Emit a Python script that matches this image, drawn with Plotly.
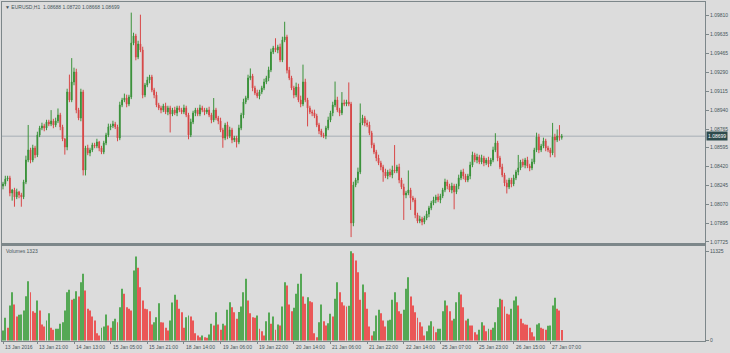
import plotly.graph_objects as go
from datetime import datetime, timedelta

# ---------------- data ----------------
symbol = "EURUSD,H1"
first_open = 1.08240
close = [
    1.08259, 1.08305, 1.08315, 1.08176, 1.08204, 1.08140, 1.08186, 1.08158, 1.08140, 1.08278,
    1.08480, 1.08573, 1.08480, 1.08591, 1.08527, 1.08711, 1.08775, 1.08794, 1.08775, 1.08831,
    1.08812, 1.08840, 1.08803, 1.08840, 1.08895, 1.08785, 1.08674, 1.08600, 1.09107, 1.09033,
    1.09199, 1.09291, 1.08941, 1.08867, 1.09107, 1.08388, 1.08591, 1.08545, 1.08573, 1.08619,
    1.08609, 1.08646, 1.08591, 1.08554, 1.08637, 1.08711, 1.08785, 1.08794, 1.08812, 1.08785,
    1.08683, 1.08987, 1.09033, 1.09052, 1.08996, 1.09061, 1.09558, 1.09623, 1.09429, 1.09549,
    1.09494, 1.09079, 1.09171, 1.09217, 1.09245, 1.09125, 1.09079, 1.08987, 1.08960, 1.08941,
    1.08978, 1.08923, 1.08960, 1.08904, 1.08941, 1.08914, 1.08960, 1.08941, 1.08923, 1.08960,
    1.08895, 1.08711, 1.08831, 1.08914, 1.08941, 1.08904, 1.08960, 1.08941, 1.08923, 1.08941,
    1.08895, 1.08849, 1.08941, 1.08867, 1.08840, 1.08757, 1.08683, 1.08803, 1.08702, 1.08757,
    1.08665, 1.08683, 1.08646, 1.08775, 1.08895, 1.09015, 1.09052, 1.09236, 1.09254, 1.09144,
    1.09098, 1.09070, 1.09107, 1.09144, 1.09199, 1.09236, 1.09310, 1.09476, 1.09512, 1.09494,
    1.09522, 1.09402, 1.09586, 1.09614, 1.09308, 1.09236, 1.09144, 1.09079, 1.09153, 1.09033,
    1.08996, 1.09199, 1.09033, 1.08960, 1.08923, 1.08914, 1.08886, 1.08803, 1.08748, 1.08711,
    1.08702, 1.08775, 1.08849, 1.08914, 1.08987, 1.09033, 1.08941, 1.08914, 1.09006, 1.08996,
    1.09015, 1.08996, 1.07900, 1.08250, 1.08296, 1.08370, 1.08821, 1.08867, 1.08821, 1.08803,
    1.08729, 1.08619, 1.08554, 1.08499, 1.08453, 1.08416, 1.08370, 1.08333, 1.08370, 1.08342,
    1.08388, 1.08379, 1.08416, 1.08296, 1.08232, 1.08158, 1.08176, 1.08204, 1.08130, 1.08112,
    1.07974, 1.07918, 1.07937, 1.07909, 1.07946, 1.07983, 1.08038, 1.08084, 1.08112, 1.08140,
    1.08112, 1.08149, 1.08204, 1.08278, 1.08241, 1.08204, 1.08241, 1.08186, 1.08241, 1.08315,
    1.08370, 1.08333, 1.08296, 1.08333, 1.08434, 1.08527, 1.08480, 1.08508, 1.08462, 1.08499,
    1.08453, 1.08480, 1.08444, 1.08480, 1.08573, 1.08637, 1.08499, 1.08416, 1.08342, 1.08269,
    1.08232, 1.08296, 1.08259, 1.08315, 1.08370, 1.08407, 1.08462, 1.08434, 1.08480, 1.08425,
    1.08407, 1.08462, 1.08573, 1.08692, 1.08573, 1.08609, 1.08656, 1.08591, 1.08573, 1.08545,
    1.08692, 1.08665, 1.08702, 1.08688, 1.08699,
]
upper_wick_pips = [
    2, 3, 2, 2, 1, 2, 3, 1, 2, 2,
    4, 23, 2, 3, 2, 3, 2, 3, 2, 2,
    2, 10, 2, 3, 6, 2, 2, 1, 3, 16,
    22, 4, 3, 2, 3, 2, 2, 3, 2, 2,
    2, 3, 1, 2, 2, 2, 3, 2, 3, 2,
    2, 3, 2, 4, 3, 2, 28, 3, 2, 3,
    27, 3, 2, 3, 2, 2, 2, 3, 2, 2,
    2, 3, 2, 2, 2, 3, 2, 2, 2, 3,
    2, 2, 3, 2, 2, 2, 3, 2, 2, 2,
    3, 2, 11, 2, 2, 3, 2, 2, 3, 3,
    2, 2, 2, 3, 2, 3, 2, 3, 7, 2,
    2, 3, 2, 2, 3, 2, 3, 3, 2, 9,
    2, 3, 3, 14, 2, 3, 2, 2, 4, 3,
    4, 16, 3, 2, 2, 2, 3, 2, 2, 2,
    2, 2, 3, 2, 3, 17, 3, 2, 10, 3,
    2, 18, 2, 3, 2, 4, 18, 3, 2, 3,
    3, 2, 2, 2, 3, 2, 2, 3, 2, 3,
    4, 23, 2, 3, 2, 3, 2, 18, 2, 2,
    2, 2, 3, 2, 2, 3, 2, 2, 3, 2,
    3, 2, 2, 3, 2, 2, 3, 2, 2, 3,
    2, 3, 2, 2, 3, 3, 2, 3, 2, 3,
    2, 2, 3, 2, 3, 9, 2, 2, 3, 2,
    3, 2, 2, 3, 2, 12, 2, 3, 2, 3,
    2, 3, 2, 4, 3, 2, 3, 2, 2, 2,
    13, 3, 6, 10, 2.1,
]
lower_wick_pips = [
    3, 2, 2, 3, 7, 9, 2, 3, 9, 2,
    2, 2, 3, 2, 3, 2, 2, 2, 3, 2,
    2, 2, 3, 2, 2, 3, 2, 7, 3, 2,
    2, 3, 3, 2, 3, 5, 5, 2, 3, 2,
    2, 2, 3, 2, 2, 2, 2, 3, 2, 2,
    3, 2, 2, 2, 3, 2, 2, 2, 3, 2,
    2, 3, 2, 2, 3, 2, 3, 2, 2, 3,
    2, 2, 3, 17, 2, 2, 3, 2, 2, 2,
    2, 4, 2, 2, 3, 2, 2, 2, 3, 2,
    2, 3, 2, 2, 3, 2, 9, 2, 3, 2,
    3, 2, 5, 2, 2, 3, 2, 2, 2, 3,
    2, 2, 3, 2, 2, 2, 3, 2, 2, 2,
    3, 2, 2, 2, 3, 2, 2, 3, 2, 2,
    3, 2, 2, 17, 2, 3, 2, 2, 3, 2,
    2, 3, 2, 2, 3, 2, 2, 3, 2, 2,
    2, 2, 13, 3, 2, 3, 2, 2, 3, 2,
    2, 3, 2, 3, 2, 3, 9, 2, 3, 2,
    3, 2, 2, 3, 2, 23, 3, 2, 11, 2,
    3, 2, 2, 3, 2, 2, 3, 2, 2, 3,
    2, 3, 2, 2, 3, 2, 3, 16, 2, 3,
    2, 3, 2, 2, 3, 2, 2, 3, 2, 2,
    3, 2, 3, 2, 2, 2, 3, 2, 2, 3,
    6, 2, 3, 2, 2, 3, 2, 2, 3, 2,
    3, 2, 2, 2, 3, 2, 2, 3, 2, 4,
    2, 16, 2, 3, 2.0,
]
volume = [
    1270, 2880, 1610, 4450, 6140, 4570, 3050, 3260, 3300, 3810,
    5630, 7540, 6140, 3730, 3510, 5080, 3810, 2030, 1780, 2540,
    3470, 1610, 1360, 1480, 1500, 2120, 2330, 3810, 6140, 6440,
    5170, 5290, 6270, 5590, 7410, 8470, 6350, 4020, 3810, 3050,
    2540, 930, 640, 1610, 1780, 3300, 1910, 1610, 2460, 2750,
    2330, 4230, 6560, 5930, 4230, 4020, 3810, 8890, 10670, 9230,
    6770, 5080, 4020, 3980, 3730, 2030, 2330, 2960, 4740, 2330,
    2300, 1610, 1270, 2540, 4830, 5800, 5170, 4020, 3600, 1610,
    2960, 3180, 3050, 2540, 930, 640, 420, 640, 420, 340,
    760, 2120, 1910, 3600, 2030, 1360, 2120, 1910, 3890, 4870,
    4230, 3600, 2750, 3620, 4320, 6140, 7830, 5080, 3470, 2960,
    2900, 3180, 1480, 1190, 640, 2460, 3560, 2120, 3050, 1360,
    2030, 1910, 4320, 7410, 6980, 4570, 3730, 4150, 5930, 7200,
    8470, 5590, 4660, 5500, 5000, 4870, 930, 420, 2330, 4570,
    2460, 1910, 2200, 3390, 3050, 5290, 7410, 6140, 4870, 4450,
    4320, 4400, 11325, 11090, 10160, 8680, 5170, 7110, 6140, 4020,
    1780, 640, 1190, 3180, 3890, 3470, 2540, 1780, 2540, 2620,
    5170, 6140, 4870, 3730, 3390, 3890, 6560, 8040, 5590, 4450,
    3600, 2880, 2330, 1780, 640, 1190, 1910, 2460, 1780, 1060,
    1480, 1500, 3730, 5080, 4450, 3730, 2540, 2750, 4870, 6140,
    5840, 4230, 2540, 2750, 1910, 1900, 1060, 760, 1360, 2330,
    1910, 1190, 1480, 1360, 1610, 2330, 4230, 5290, 5170, 4320,
    3390, 3300, 4020, 5080, 5590, 4450, 2750, 2200, 2030, 2000,
    1610, 1060, 510, 2030, 2200, 1610, 1480, 1360, 1860, 1910,
    4450, 5420, 4020, 3810, 1323,
]
price_ticks = [1.09810, 1.09635, 1.09465, 1.09290, 1.09115, 1.08940, 1.08765,
               1.08595, 1.08420, 1.08245, 1.08070, 1.07895, 1.07725]
time_labels = ["13 Jan 2016", "13 Jan 21:00", "14 Jan 13:00", "15 Jan 05:00",
               "15 Jan 21:00", "18 Jan 14:00", "19 Jan 06:00", "19 Jan 22:00",
               "20 Jan 14:00", "21 Jan 06:00", "21 Jan 22:00", "22 Jan 14:00",
               "25 Jan 07:00", "25 Jan 23:00", "26 Jan 15:00", "27 Jan 07:00"]
start_time = datetime(2016, 1, 13, 6)

# ---------------- derived ----------------
n = len(close)
times = []
t = start_time
while len(times) < n:
    wd = t.weekday()
    if wd < 4 or (wd == 4 and t.hour <= 22):
        times.append(t)
    t += timedelta(hours=1)

opens = [first_open] + close[:-1]
highs = [max(o, c) + u * 1e-4 for o, c, u in zip(opens, close, upper_wick_pips)]
lows = [min(o, c) - w * 1e-4 for o, c, w in zip(opens, close, lower_wick_pips)]
idx = list(range(n))

vol_colors = []
for k, v in enumerate(volume):
    up = k == 0 or v > volume[k - 1]
    vol_colors.append("#55a855" if up else "#ea5757")

tick_idx = []
for lab in time_labels:
    for k, tt in enumerate(times):
        if tt.strftime("%d %b %H:%M") == lab:
            tick_idx.append(k)
            break
    else:
        tick_idx.append(0)

# ---------------- style ----------------
BG = "#dcdcdc"
FRAME = "#7d878a"
TXT = "#46555a"
FONT = "Liberation Sans, Arial, sans-serif"
W, H = 730, 353
ML, MR, MT, MB = 2, 25, 2, 12
ph = H - MT - MB  # plot height in px


def py(pix):  # pixel row -> paper y
    return (H - MB - pix) / ph


fig = go.Figure()
fig.add_trace(go.Candlestick(
    x=idx, open=opens, high=highs, low=lows, close=close,
    increasing=dict(line=dict(color="#3a923a", width=1), fillcolor="#127a12"),
    decreasing=dict(line=dict(color="#d84848", width=1), fillcolor="#c81e1e"),
    whiskerwidth=0, xaxis="x", yaxis="y", showlegend=False, hoverinfo="skip",
))
fig.add_trace(go.Bar(
    x=idx, y=volume, marker=dict(color=vol_colors, line=dict(width=0)),
    xaxis="x2", yaxis="y2", showlegend=False, hoverinfo="skip",
))

x_range = [-0.44, 306.55]
last = n - 1
annotations = [
    dict(text="▼ %s  %.5f %.5f %.5f %.5f" % (symbol, opens[last], highs[last], lows[last], close[last]),
         xref="paper", yref="paper", x=0.002, y=py(6.5), xanchor="left", yanchor="middle",
         showarrow=False, font=dict(size=5, color=TXT, family=FONT)),
    dict(text="Volumes %d" % volume[last],
         xref="paper", yref="paper", x=0.003, y=py(250.5), xanchor="left", yanchor="middle",
         showarrow=False, font=dict(size=5, color=TXT, family=FONT)),
    dict(text="%.5f" % close[last], xref="paper", yref="y", x=1, y=close[last],
         xanchor="left", yanchor="middle", xshift=1, showarrow=False,
         bgcolor="#2d4a4c", borderpad=1, font=dict(size=5, color="#ffffff", family=FONT)),
]
for k, lab in zip(tick_idx, time_labels):
    annotations.append(dict(text=lab, xref="x2", yref="paper", x=k, y=py(346.8),
                            xanchor="left", yanchor="middle", xshift=0, showarrow=False,
                            font=dict(size=5, color=TXT, family=FONT)))

axis_common = dict(showline=True, mirror=True, linecolor=FRAME, linewidth=1,
                   showgrid=False, zeroline=False, fixedrange=True)

fig.update_layout(
    width=W, height=H,
    margin=dict(l=ML, r=MR, t=MT, b=MB, pad=0),
    paper_bgcolor=BG, plot_bgcolor=BG,
    font=dict(family=FONT, size=5, color=TXT),
    boxgap=0.5, bargap=0.58,
    showlegend=False,
    xaxis=dict(domain=[0, 1], anchor="y", range=x_range, showticklabels=False, ticks="",
               rangeslider=dict(visible=False), **axis_common),
    xaxis2=dict(domain=[0, 1], anchor="y2", range=x_range, matches="x",
                tickvals=tick_idx, ticks="outside", ticklen=2, tickcolor=FRAME,
                showticklabels=False, **axis_common),
    yaxis=dict(domain=[py(243.5), 1], anchor="x", side="right", range=[1.07711, 1.09936],
               tickvals=price_ticks, ticktext=["%.5f" % v for v in price_ticks],
               ticks="outside", ticklen=3, tickcolor=FRAME,
               tickfont=dict(size=5, color=TXT, family=FONT), **axis_common),
    yaxis2=dict(domain=[0, py(245.5)], anchor="x2", side="right", range=[-64, 12065],
                tickvals=[0, max(volume)], ticktext=["0", str(max(volume))],
                ticks="outside", ticklen=3, tickcolor=FRAME,
                tickfont=dict(size=5, color=TXT, family=FONT), **axis_common),
    shapes=[
        dict(type="line", xref="paper", yref="y", x0=0, x1=1, y0=close[last], y1=close[last],
             line=dict(color="#b8bdc2", width=1.6), layer="below"),
        dict(type="rect", xref="paper", yref="paper", x0=0, x1=1, y0=py(246), y1=py(243),
             fillcolor=FRAME, line=dict(width=0), layer="above"),
    ],
    annotations=annotations,
)

fig.write_html("out.html")
